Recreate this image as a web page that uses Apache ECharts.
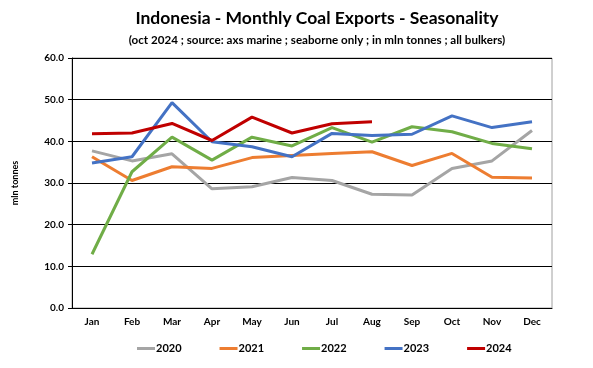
<!DOCTYPE html>
<html><head><meta charset="utf-8">
<script src="https://cdn.jsdelivr.net/npm/echarts@6/dist/echarts.min.js"></script>
<style>html,body{margin:0;padding:0;background:#fff}#c{width:593px;height:368px}</style>
</head><body><div id="c"></div>
<script>
const months = ['Jan','Feb','Mar','Apr','May','Jun','Jul','Aug','Sep','Oct','Nov','Dec'];
const y2020 = [37.7,35.3,37.0,28.6,29.1,31.3,30.6,27.3,27.1,33.5,35.3,42.6];
const y2021 = [36.3,30.6,33.9,33.5,36.1,36.6,37.1,37.5,34.2,37.1,31.4,31.2];
const y2022 = [12.9,32.7,41.0,35.5,41.0,38.9,43.3,39.8,43.5,42.3,39.5,38.2];
const y2023 = [34.8,36.3,49.3,39.9,38.7,36.3,41.9,41.4,41.7,46.1,43.3,44.7];
const y2024 = [41.8,42.0,44.3,40.2,45.8,42.0,44.2,44.7];
const yTicks = [0,10,20,30,40,50,60];
const seriesNames = ['2020','2021','2022','2023','2024'];
const seriesColors = ['#A5A5A5','#ED7D31','#70AD47','#4472C4','#C00000'];
const seriesData = [y2020,y2021,y2022,y2023,y2024];

const FONT = 'Lato';
const chart = echarts.init(document.getElementById('c'));
chart.setOption({
  animation:false,
  title:[
    {text:'Indonesia - Monthly Coal Exports - Seasonality',left:312,top:4,textAlign:'center',
     textStyle:{fontFamily:FONT,fontSize:17.5,fontWeight:'bold',color:'#000'}},
    {text:'(oct 2024 ; source: axs marine ; seaborne only ; in mln tonnes ; all bulkers)',left:312,top:29,textAlign:'center',
     textStyle:{fontFamily:FONT,fontSize:11.6,fontWeight:'bold',color:'#000'}}
  ],
  grid:{left:72,right:41,top:58,bottom:60,show:true,borderColor:'#A0A0A0',borderWidth:1},
  legend:{bottom:9,left:132,itemWidth:18,itemHeight:3,itemGap:38,icon:'rect',
    textStyle:{fontFamily:FONT,fontSize:11,fontWeight:'bold',color:'#000',padding:[0,0,0,-4]},
    data:seriesNames},
  xAxis:{type:'category',data:months,boundaryGap:true,
    axisLine:{lineStyle:{color:'#000',width:1}},axisTick:{show:false},
    axisLabel:{fontFamily:FONT,fontSize:10,fontWeight:'bold',color:'#000',margin:9},
    splitLine:{show:false}},
  yAxis:{type:'value',min:0,max:60,interval:10,name:'mln tonnes',nameLocation:'middle',nameGap:52,nameRotate:90,
    nameTextStyle:{fontFamily:FONT,fontSize:9,fontWeight:'bold',color:'#000'},
    axisLine:{show:true,lineStyle:{color:'#000',width:1}},
    axisTick:{show:true,inside:false,length:4,lineStyle:{color:'#000'}},
    axisLabel:{fontFamily:FONT,fontSize:10,fontWeight:'bold',color:'#000',margin:8,
      formatter:v=>yTicks.includes(v)?v.toFixed(1):''},
    splitLine:{show:true,lineStyle:{color:'#000',width:1}}},
  series:seriesNames.map((n,i)=>({name:n,type:'line',data:seriesData[i],symbol:'none',
    lineStyle:{width:3,color:seriesColors[i]},itemStyle:{color:seriesColors[i]},z:2+i}))
});
</script></body></html>
